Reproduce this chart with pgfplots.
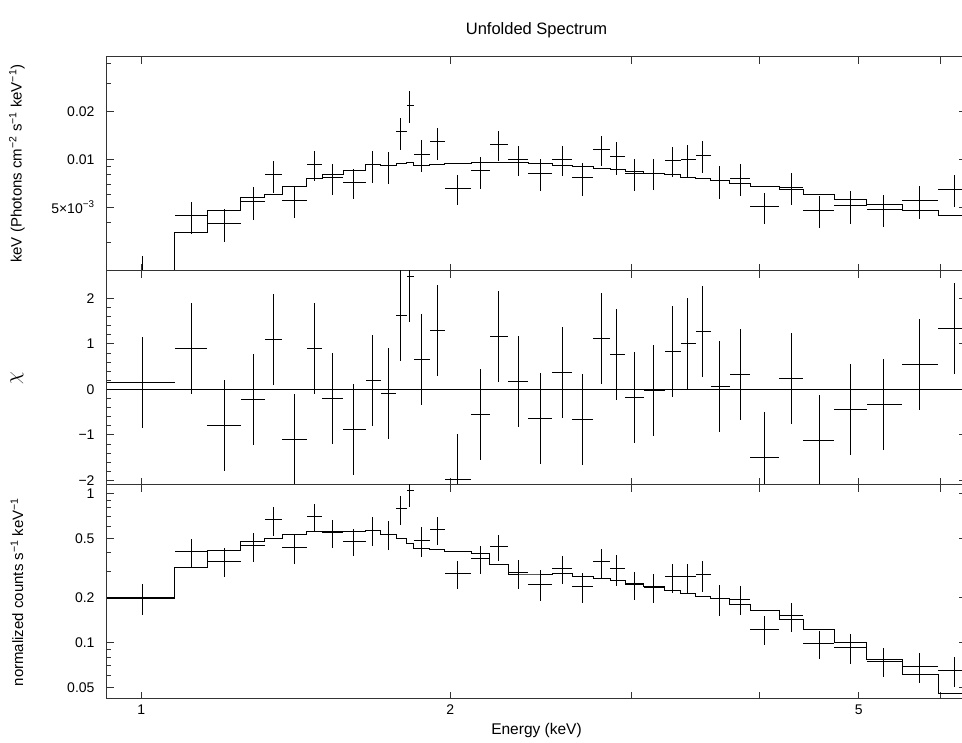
\documentclass[border=0pt]{standalone}
\usepackage{fontspec}
\setmainfont{Liberation Sans}
\usepackage{pgfplots}
\pgfplotsset{compat=1.18}
\usepackage{pgfplotstable}

% bins: edges lo/hi, centre x; u/eu unfolded data, c chi, n/en normalized counts
\pgfplotstableread{
lo    hi    x     u       eu      c      n       en
0.926 1.078 1.003 0.0015  0.00098 0.16   0.201   0.047
1.078 1.160 1.119 0.00441 0.0010  0.91   0.406   0.090
1.160 1.250 1.205 0.00395 0.00093 -0.79  0.352   0.078
1.250 1.319 1.285 0.00542 0.00127 -0.23  0.446   0.100
1.319 1.372 1.346 0.00797 0.0018  1.09   0.663   0.146
1.372 1.449 1.409 0.0055  0.00124 -1.09  0.432   0.096
1.449 1.501 1.475 0.0093  0.0020  0.91   0.697   0.145
1.501 1.573 1.536 0.00767 0.00166 -0.21  0.545   0.114
1.573 1.655 1.611 0.00718 0.00155 -0.88  0.477   0.098
1.655 1.712 1.679 0.00921 0.0021  0.20   0.568   0.124
1.712 1.772 1.741 0.00908 0.00206 -0.09  0.534   0.119
1.772 1.814 1.790 0.01483 0.0034  1.63   0.789   0.176
1.814 1.843 1.825 0.0218  0.0049  2.49   1.052   0.240
1.843 1.911 1.877 0.01075 0.00237 0.65   0.487   0.110
1.911 1.976 1.942 0.01284 0.0029  1.29   0.574   0.124
1.976 2.097 2.034 0.0066  0.0014  -1.99  0.291   0.063
2.097 2.186 2.139 0.00845 0.0019  -0.54  0.365   0.078
2.186 2.278 2.228 0.01242 0.0026  1.16   0.439   0.088
2.278 2.382 2.330 0.0100  0.0022  0.18   0.294   0.065
2.382 2.515 2.450 0.0082  0.0019  -0.63  0.247   0.058
2.515 2.629 2.571 0.0100  0.0022  0.37   0.314   0.066
2.629 2.755 2.692 0.00771 0.0018  -0.65  0.239   0.054
2.755 2.862 2.806 0.01155 0.0025  1.11   0.347   0.076
2.862 2.962 2.906 0.01038 0.0024  0.77   0.313   0.072
2.962 3.087 3.024 0.0082  0.0019  -0.18  0.246   0.053
3.087 3.234 3.158 0.00817 0.0018  -0.02  0.236   0.052
3.234 3.355 3.290 0.00986 0.0021  0.84   0.276   0.061
3.355 3.469 3.404 0.0100  0.0023  1.02   0.276   0.061
3.469 3.587 3.525 0.0106  0.0024  1.27   0.285   0.065
3.587 3.742 3.660 0.00731 0.0017  0.07   0.197   0.045
3.742 3.920 3.833 0.0076  0.0017  0.32   0.196   0.043
3.920 4.181 4.045 0.00505 0.0011  -1.49  0.123   0.027
4.181 4.417 4.295 0.00668 0.0015  0.23   0.151   0.033
4.417 4.732 4.574 0.00479 0.0011  -1.13  0.0989  0.0216
4.732 5.092 4.912 0.00512 0.0012  -0.45  0.0925  0.021
5.092 5.511 5.288 0.00486 0.0011  -0.34  0.0753  0.0165
5.511 5.973 5.724 0.00548 0.00128 0.54   0.0697  0.016
5.973 6.430 6.200 0.00649 0.00146 1.33   0.0653  0.015
}\spec

% model steps: left bin edge e, unfolded model um, folded model nm
\pgfplotstableread{
e     um      nm
0.926 0.0014  0.197
1.078 0.00347 0.319
1.160 0.00474 0.413
1.250 0.00574 0.474
1.319 0.00603 0.497
1.372 0.00677 0.531
1.449 0.00756 0.553
1.501 0.00797 0.557
1.573 0.00848 0.551
1.655 0.00925 0.562
1.712 0.0092  0.528
1.772 0.00939 0.500
1.814 0.0095  0.463
1.843 0.0092  0.428
1.911 0.0093  0.419
1.976 0.0094  0.411
2.097 0.0096  0.394
2.186 0.0096  0.336
2.278 0.0096  0.284
2.382 0.00944 0.284
2.515 0.0091  0.289
2.629 0.00895 0.276
2.755 0.00878 0.267
2.862 0.0086  0.259
2.962 0.00841 0.250
3.087 0.00817 0.237
3.234 0.00797 0.225
3.355 0.00774 0.214
3.469 0.00753 0.205
3.587 0.00731 0.197
3.742 0.00707 0.180
3.920 0.00677 0.164
4.181 0.00642 0.142
4.417 0.00597 0.123
4.732 0.0056  0.101
5.092 0.00522 0.0777
5.511 0.0048  0.0616
5.973 0.00446 0.0455
6.430 0.00446 0.0455
}\model

\pgfplotsset{
  every axis/.append style={
    scale only axis, width=859pt, height=214pt,
    xmin=0.926, xmax=6.36,
    xtick={1,2,3,4,5,6}, minor xtick={},
    tick align=inside,
    major tick length=7pt, minor tick length=4pt,
    axis line style={line width=1pt, black!80},
    tick style={line width=0.9pt, black!80},
    ticklabel style={font=\fontsize{14}{16}\selectfont},
    yticklabel style={xshift=-9pt},
    clip=true,
  },
  every axis y label/.style={at={(axis description cs:-0.1048,0.5)}, rotate=90, anchor=center, font=\fontsize{15}{17}\selectfont},
  every axis x label/.style={at={(axis description cs:0.5,-0.1495)}, anchor=center, font=\fontsize{15.5}{17}\selectfont},
  errstyle/.style={only marks, mark=*, mark size=0pt, mark options={draw=none, fill=none},
    error bars/.cd, x dir=both, x explicit, y dir=both, y explicit,
    error mark=none, error bar style={line width=1pt, black}},
}

\begin{document}
\begin{tikzpicture}
\path[use as bounding box, clip] (0,0) rectangle (962pt,743pt);

% top panel
\begin{axis}[xmode=log, at={(107pt,472.3pt)}, anchor=south west,
  xticklabels={},
  ymode=log, ymin=0.002, ymax=0.044,
  ytick={0.005,0.01,0.02},
  yticklabels={5×10\textsuperscript{−3},0.01,0.02},
  minor ytick={0.002,0.003,0.004,0.006,0.007,0.008,0.009,0.03,0.04},
  ylabel={keV (Photons cm\textsuperscript{−2} s\textsuperscript{−1} keV\textsuperscript{−1})},
  title={Unfolded Spectrum},
  title style={at={(axis description cs:0.5,1)}, anchor=center, yshift=20.7pt, font=\fontsize{16.5}{18}\selectfont},
]
\addplot[errstyle]
  table[x=x, y=u,
  x error minus expr=\thisrow{x}-\thisrow{lo},
  x error plus expr=\thisrow{hi}-\thisrow{x},
  y error=eu] {\spec};
\addplot[const plot, black, line width=1pt] table[x=e, y=um] {\model};
\end{axis}

% middle panel (chi)
\begin{axis}[xmode=log, at={(107pt,258pt)}, anchor=south west, height=214.3pt,
  xticklabels={},
  ymin=-2.1, ymax=2.61,
  ytick={-2,-1,0,1,2}, yticklabels={−2,−1,0,1,2},
  minor y tick num=4,
  ylabel={\fontsize{20}{22}\selectfont$\chi$},
]
\addplot[black, line width=1pt] coordinates {(0.9,0) (6.5,0)};
\addplot[errstyle]
  table[x=x, y=c,
  x error minus expr=\thisrow{x}-\thisrow{lo},
  x error plus expr=\thisrow{hi}-\thisrow{x},
  y error expr=1] {\spec};
\end{axis}

% bottom panel
\begin{axis}[xmode=log, at={(107pt,44pt)}, anchor=south west,
  ymode=log, ymin=0.042, ymax=1.137,
  ytick={0.05,0.1,0.2,0.5,1}, yticklabels={0.05,0.1,0.2,0.5,1},
  minor ytick={0.06,0.07,0.08,0.09,0.3,0.4,0.6,0.7,0.8,0.9},
  xticklabels={1,2,,,5,},
  xticklabel style={yshift=-2pt},
  ylabel={normalized counts s\textsuperscript{−1} keV\textsuperscript{−1}},
  xlabel={Energy (keV)},
]
\addplot[errstyle]
  table[x=x, y=n,
  x error minus expr=\thisrow{x}-\thisrow{lo},
  x error plus expr=\thisrow{hi}-\thisrow{x},
  y error=en] {\spec};
\addplot[const plot, black, line width=1pt] table[x=e, y=nm] {\model};
\end{axis}
\end{tikzpicture}
\end{document}
